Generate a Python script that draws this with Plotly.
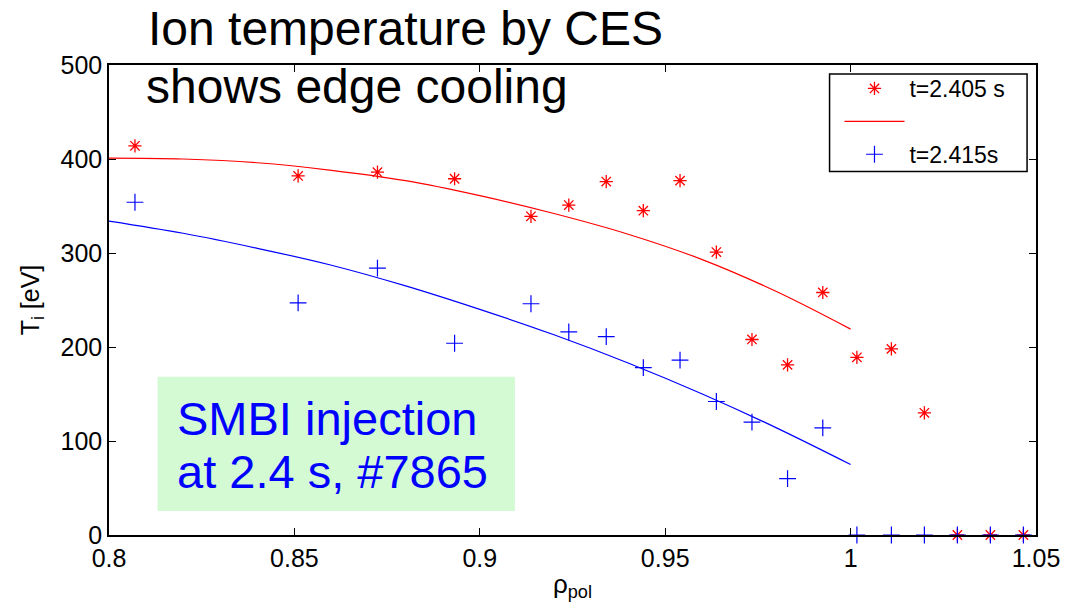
import plotly.graph_objects as go

# Normalised poloidal radius of the CES channels
rho = [0.807, 0.851, 0.8724, 0.8932, 0.9138, 0.924, 0.9341, 0.9441, 0.954, 0.9638,
       0.9734, 0.983, 0.9925, 1.0017, 1.011, 1.0199, 1.0288, 1.0377, 1.0466]
# Measured ion temperature [eV] at the two time slices
ti_t2405 = [414, 382, 386, 379, 339, 351, 376, 345, 377, 301,
            208, 181, 258, 189, 198, 130, 0, 0, 0]
ti_t2415 = [354, 247, 284, 204, 246, 216, 211, 178, 186, 142,
            120, 60, 114, 0, 0, 0, 0, 0, 0]

# Smoothed profile fits, sampled inside the separatrix
fit_rho = [0.80, 0.82, 0.84, 0.86, 0.88, 0.90, 0.92, 0.94, 0.96, 0.98, 1.00]
fit_t2405 = [401, 400, 396, 388, 377, 361, 342, 320, 293, 259, 219]
fit_t2415 = [334, 321, 305, 287, 265, 240, 213, 183, 150, 114, 75]

x_ticks = [0.8, 0.85, 0.9, 0.95, 1.0, 1.05]
x_tick_text = ["0.8", "0.85", "0.9", "0.95", "1", "1.05"]
y_ticks = [0, 100, 200, 300, 400, 500]

RED = "#ff0000"
BLUE = "#0000ff"
FONT = "Liberation Sans, Arial, Helvetica, sans-serif"

W, H = 1072, 606
ML, MR, MT, MB = 109, 29, 65, 69
PW, PH = W - ML - MR, H - MT - MB


def px(xp):
    return (xp - ML) / PW


def py(yp):
    return (H - MB - yp) / PH


fig = go.Figure()

fig.add_trace(go.Scatter(
    x=rho, y=ti_t2405, mode="markers", name="t=2.405 s",
    marker=dict(symbol="asterisk-open", size=11, color=RED,
                line=dict(color=RED, width=1.3)),
    cliponaxis=False,
))
fig.add_trace(go.Scatter(
    x=fit_rho, y=fit_t2405, mode="lines", name="\u00a0",
    line=dict(color=RED, width=1.2, shape="spline"),
))
fig.add_trace(go.Scatter(
    x=rho, y=ti_t2415, mode="markers", name="t=2.415s",
    marker=dict(symbol="cross-thin-open", size=12, color=BLUE,
                line=dict(color=BLUE, width=1.2)),
    cliponaxis=False,
))
fig.add_trace(go.Scatter(
    x=fit_rho, y=fit_t2415, mode="lines", showlegend=False,
    line=dict(color=BLUE, width=1.2, shape="spline"),
))

axis_common = dict(
    showline=True, linecolor="black", linewidth=1.5, mirror="ticks",
    ticks="inside", ticklen=7, tickwidth=1, tickcolor="black",
    showgrid=False, zeroline=False,
    tickfont=dict(family=FONT, size=25, color="black"),
)

fig.update_layout(
    width=W, height=H,
    margin=dict(l=ML, r=MR, t=MT, b=MB, pad=0),
    paper_bgcolor="white", plot_bgcolor="white",
    font=dict(family=FONT, color="black"),
    xaxis=dict(range=[0.8, 1.05], tickvals=x_ticks, ticktext=x_tick_text,
               title=dict(text="ρ<sub>pol</sub>", font=dict(size=26), standoff=4),
               **axis_common),
    yaxis=dict(range=[0, 500], tickvals=y_ticks,
               title=dict(text="T<sub>i</sub> [eV]", font=dict(size=25), standoff=14),
               **axis_common),
    legend=dict(
        x=px(845), y=py(67), xanchor="left", yanchor="top",
        bgcolor="rgba(0,0,0,0)", borderwidth=0,
        font=dict(family=FONT, size=23, color="black"),
        tracegroupgap=0, itemwidth=60,
    ),
    showlegend=True,
)

# Legend frame
fig.add_shape(type="rect", xref="paper", yref="paper",
              x0=px(835), x1=px(1034), y0=py(172), y1=py(74),
              fillcolor="white", line=dict(color="black", width=1.5), layer="above")

# Highlighted note box
fig.add_shape(type="rect", xref="paper", yref="paper",
              x0=px(158), x1=px(518), y0=py(513), y1=py(378),
              fillcolor="#d4fad4", line=dict(width=0), layer="above")

annotations = [
    dict(text="Ion temperature by CES", x=px(146), y=py(28), size=48, color="black"),
    dict(text="shows edge cooling", x=px(144), y=py(87), size=48, color="black"),
    dict(text="SMBI injection", x=px(175), y=py(420), size=47, color=BLUE),
    dict(text="at 2.4 s, #7865", x=px(175), y=py(473), size=47, color=BLUE),
]
for a in annotations:
    fig.add_annotation(
        text=a["text"], x=a["x"], y=a["y"], xref="paper", yref="paper",
        xanchor="left", yanchor="middle", showarrow=False,
        font=dict(family=FONT, size=a["size"], color=a["color"]),
    )

fig.write_html("out.html")
